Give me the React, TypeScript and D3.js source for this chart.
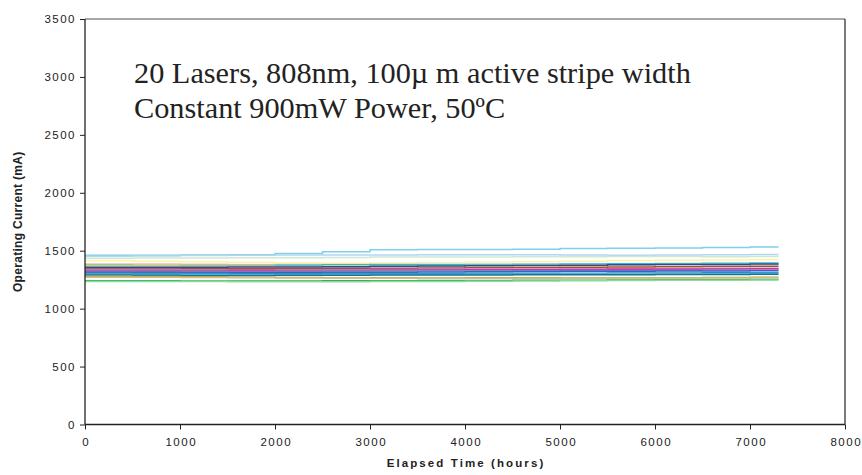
import React, { useEffect, useRef } from "react";
import * as d3 from "d3";

// elapsed hours where each reading was taken
const hours = [0, 500, 1000, 1500, 2000, 2500, 3000, 3500, 4000, 4500, 5000, 5500, 6000, 6500, 7000, 7300];

// operating current (mA) for each of the 20 lasers
const laser01 = [1460, 1460, 1462, 1465, 1475, 1490, 1508, 1510, 1510, 1512, 1520, 1522, 1524, 1528, 1532, 1532];
const laser02 = [1452, 1455, 1458, 1460, 1462, 1462, 1464, 1465, 1465, 1466, 1462, 1460, 1462, 1465, 1468, 1468];
const laser03 = [1435, 1438, 1438, 1440, 1440, 1442, 1445, 1445, 1446, 1448, 1448, 1450, 1450, 1448, 1450, 1450];
const laser04 = [1415, 1410, 1405, 1400, 1395, 1392, 1395, 1398, 1400, 1405, 1410, 1415, 1418, 1420, 1422, 1422];
const laser05 = [1385, 1385, 1383, 1382, 1380, 1380, 1378, 1378, 1380, 1380, 1382, 1383, 1385, 1385, 1386, 1386];
const laser06 = [1375, 1373, 1372, 1373, 1375, 1378, 1380, 1380, 1382, 1383, 1385, 1388, 1390, 1392, 1394, 1394];
const laser07 = [1368, 1368, 1366, 1365, 1364, 1365, 1367, 1370, 1372, 1374, 1376, 1378, 1380, 1382, 1384, 1384];
const laser08 = [1358, 1358, 1358, 1360, 1360, 1362, 1365, 1368, 1370, 1372, 1374, 1378, 1380, 1382, 1385, 1385];
const laser09 = [1345, 1345, 1345, 1346, 1347, 1348, 1348, 1350, 1352, 1355, 1358, 1360, 1362, 1363, 1365, 1365];
const laser10 = [1338, 1338, 1336, 1336, 1335, 1336, 1338, 1340, 1340, 1342, 1343, 1344, 1345, 1346, 1348, 1348];
const laser11 = [1330, 1330, 1330, 1332, 1330, 1330, 1332, 1333, 1335, 1336, 1338, 1340, 1340, 1342, 1344, 1344];
const laser12 = [1322, 1322, 1322, 1320, 1322, 1324, 1325, 1326, 1326, 1328, 1330, 1330, 1332, 1333, 1334, 1334];
const laser13 = [1315, 1315, 1313, 1312, 1312, 1314, 1315, 1316, 1318, 1320, 1322, 1322, 1324, 1325, 1326, 1326];
const laser14 = [1305, 1305, 1303, 1302, 1302, 1303, 1303, 1304, 1305, 1306, 1306, 1308, 1308, 1310, 1310, 1310];
const laser15 = [1296, 1295, 1294, 1293, 1293, 1294, 1295, 1295, 1296, 1296, 1298, 1300, 1300, 1302, 1303, 1303];
const laser16 = [1290, 1288, 1287, 1287, 1288, 1288, 1290, 1290, 1290, 1292, 1292, 1293, 1294, 1295, 1296, 1296];
const laser17 = [1280, 1278, 1275, 1270, 1268, 1266, 1266, 1265, 1266, 1266, 1265, 1265, 1266, 1268, 1270, 1270];
const laser18 = [1272, 1270, 1268, 1266, 1265, 1264, 1263, 1262, 1262, 1262, 1262, 1263, 1264, 1265, 1266, 1266];
const laser19 = [1240, 1240, 1238, 1238, 1238, 1240, 1240, 1242, 1242, 1244, 1245, 1248, 1250, 1250, 1252, 1252];
const laser20 = [1235, 1235, 1234, 1233, 1233, 1233, 1234, 1235, 1236, 1238, 1240, 1242, 1244, 1246, 1248, 1248];

const lasers = [laser01, laser02, laser03, laser04, laser05, laser06, laser07, laser08, laser09, laser10,
  laser11, laser12, laser13, laser14, laser15, laser16, laser17, laser18, laser19, laser20];

const colors = ["#7fcfee", "#b0d8ee", "#cfe8d4", "#fff3a0", "#f4b8d0", "#22bbee", "#ffe600", "#3344aa", "#a0522d", "#9999dd",
  "#ee2299", "#8888bb", "#3366cc", "#2a8fb5", "#66bbee", "#117799", "#b8a040", "#d0c080", "#33aa66", "#88dd99"];

const xTicks = [0, 1000, 2000, 3000, 4000, 5000, 6000, 7000, 8000];
const yTicks = [0, 500, 1000, 1500, 2000, 2500, 3000, 3500];

const title1 = "20 Lasers, 808nm, 100µ m active stripe width";
const title2 = "Constant 900mW Power, 50ºC";

export default function App() {
  const ref = useRef<SVGSVGElement>(null);

  useEffect(() => {
    const svg = d3.select(ref.current);
    svg.selectAll("*").remove();

    const left = 85, right = 845, top = 19, bottom = 424.5;

    const x = d3.scaleLinear().domain([0, 8000]).range([left, right]);
    const y = d3.scaleLinear().domain([0, 3500]).range([bottom, top]);

    // plot frame: grey top/right, dark axes
    svg.append("line").attr("x1", left).attr("x2", right).attr("y1", top).attr("y2", top)
      .attr("stroke", "#8a8a8a").attr("stroke-width", 1.3);
    svg.append("line").attr("x1", right).attr("x2", right).attr("y1", top).attr("y2", bottom)
      .attr("stroke", "#333").attr("stroke-width", 1.3);

    const line = d3.line<number>()
      .x((d, i) => x(hours[i]))
      .y(d => y(d))
      .curve(d3.curveStepAfter);

    svg.append("g")
      .selectAll("path")
      .data(lasers)
      .join("path")
      .attr("d", d => line(d))
      .attr("fill", "none")
      .attr("stroke", (d, i) => colors[i])
      .attr("stroke-width", 1.5);

    const yAxis = d3.axisLeft(y).tickValues(yTicks).tickSize(5).tickPadding(4).tickFormat(d3.format("d"));
    const yG = svg.append("g").attr("transform", `translate(${left},0)`).call(yAxis);

    const xAxis = d3.axisBottom(x).tickValues(xTicks).tickSize(5).tickPadding(8).tickFormat(d3.format("d"));
    const xG = svg.append("g").attr("transform", `translate(0,${bottom})`).call(xAxis);

    [yG, xG].forEach(g => {
      g.select(".domain").attr("stroke", "#222").attr("stroke-width", 1.3);
      g.selectAll(".tick line").attr("stroke", "#222");
      g.selectAll(".tick text").attr("font-family", "Liberation Sans, Arial, sans-serif")
        .attr("font-size", 11.5).attr("letter-spacing", 1.5).attr("fill", "#222");
    });
    xG.selectAll(".tick text").attr("dx", 0.75);
    xG.select(".domain").attr("d", `M${left},0H${right}`);
    yG.select(".domain").attr("d", `M0,${bottom}V${top}`);

    svg.append("text")
      .attr("x", 466).attr("y", 467)
      .attr("text-anchor", "middle")
      .attr("font-family", "Liberation Sans, Arial, sans-serif")
      .attr("font-weight", "bold").attr("font-size", 11.5)
      .attr("letter-spacing", 2.1).attr("fill", "#222")
      .text("Elapsed Time (hours)");

    svg.append("text")
      .attr("transform", `translate(22,${(top + bottom) / 2}) rotate(-90)`)
      .attr("text-anchor", "middle")
      .attr("font-family", "Liberation Sans, Arial, sans-serif")
      .attr("font-weight", "bold").attr("font-size", 12)
      .attr("letter-spacing", 0.3).attr("fill", "#222")
      .text("Operating Current (mA)");

    const t = svg.append("g").attr("font-family", "Liberation Serif, Times New Roman, serif")
      .attr("font-size", 30.3).attr("fill", "#222");
    t.append("text").attr("x", 134).attr("y", 83).text(title1);
    t.append("text").attr("x", 134).attr("y", 118).text(title2);
  }, []);

  return (
    <svg ref={ref} width={862} height={475}
      style={{ position: "absolute", left: 0, top: 0, background: "#fff" }} />
  );
}
